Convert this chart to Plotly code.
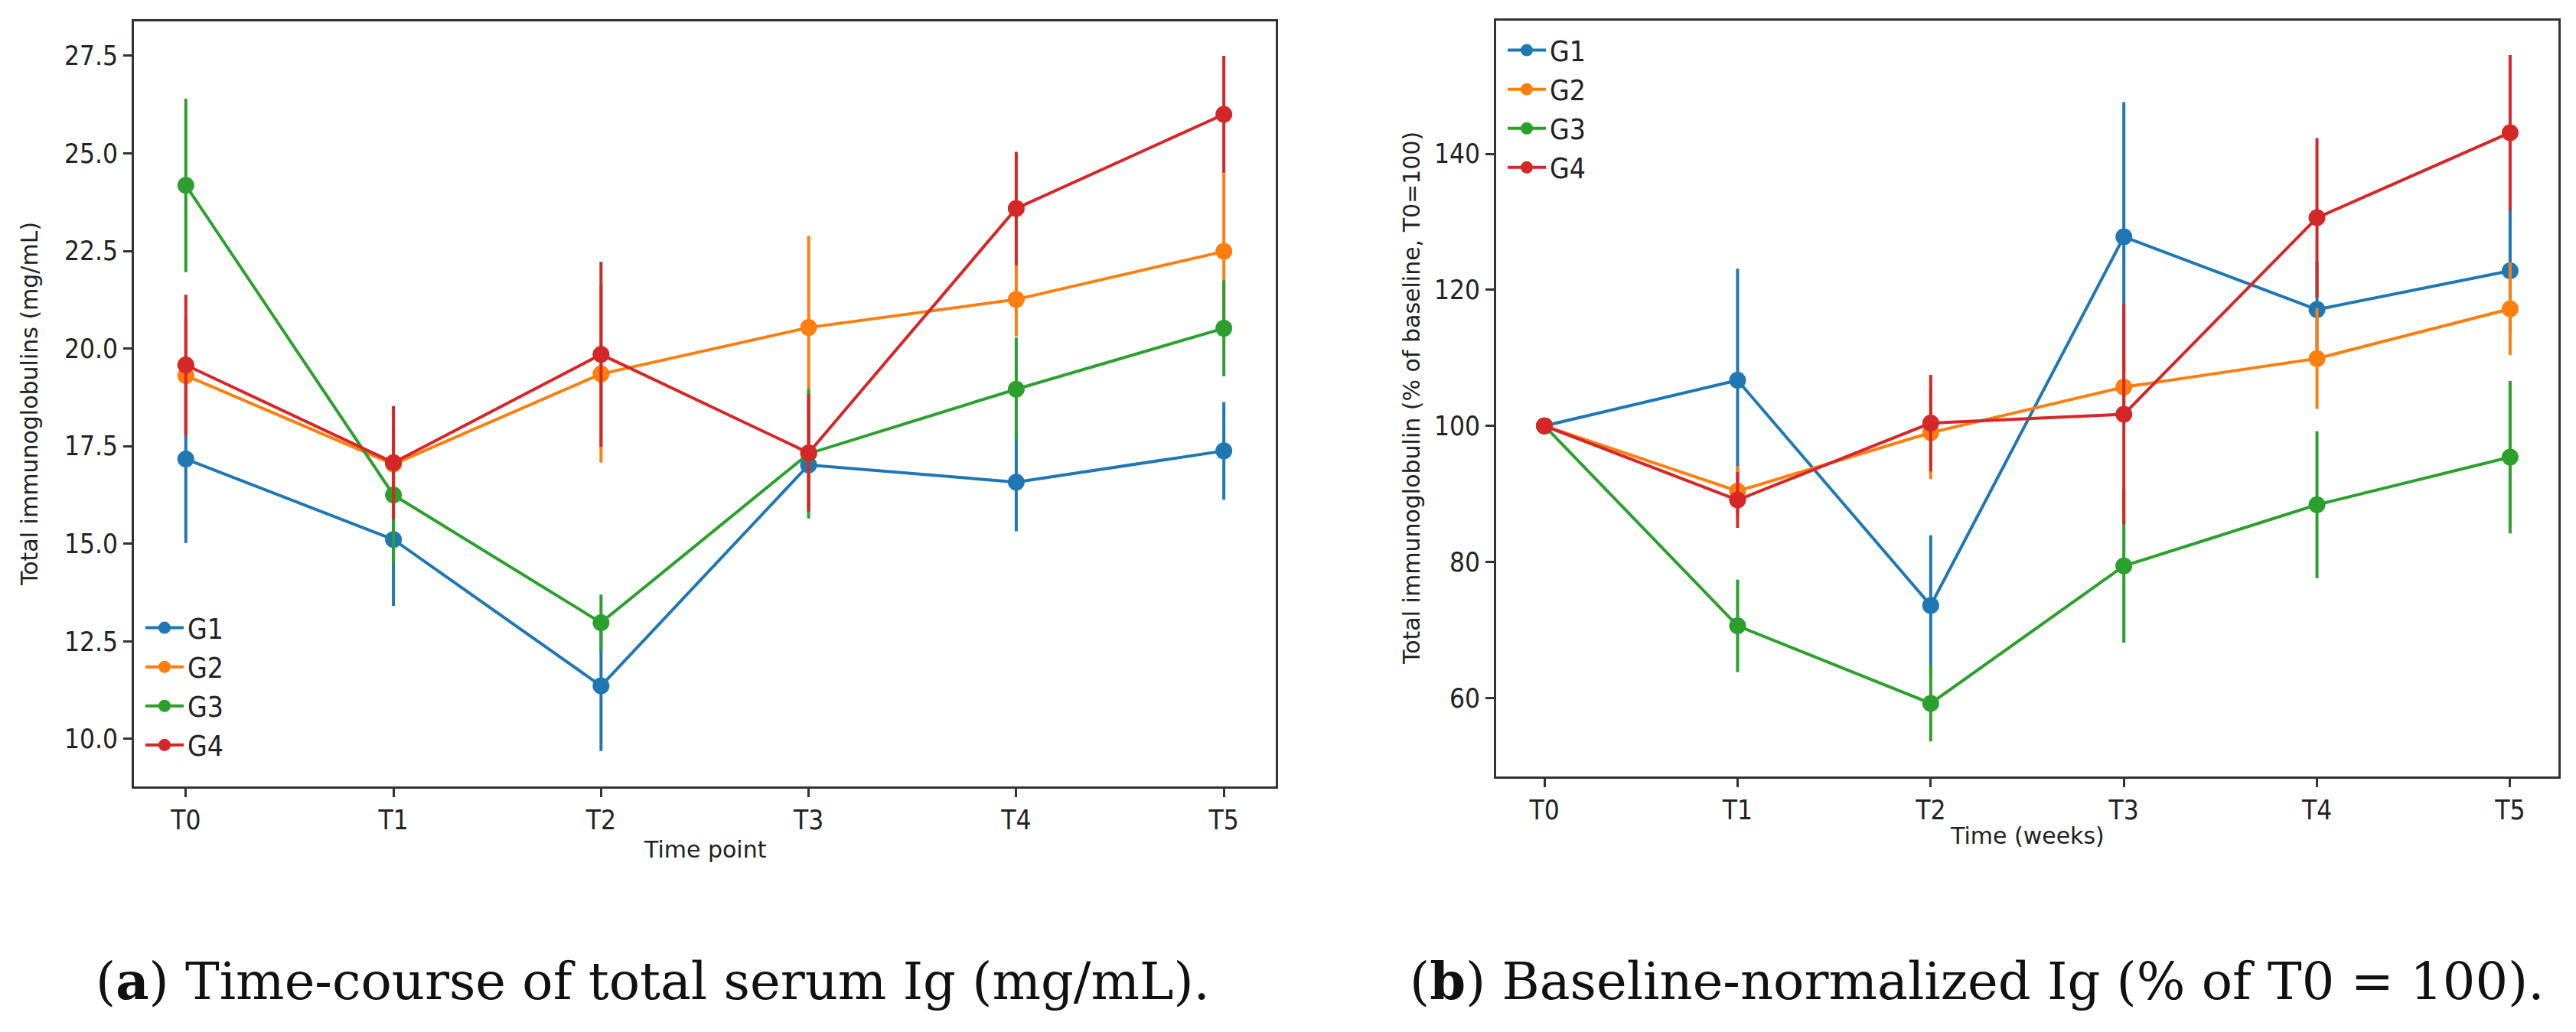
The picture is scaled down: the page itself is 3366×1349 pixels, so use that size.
import plotly.graph_objects as go

times = ["T0", "T1", "T2", "T3", "T4", "T5"]
groups = ["G1", "G2", "G3", "G4"]
colors = ["#1f77b4", "#ff7f0e", "#2ca02c", "#d62728"]

# Panel (a): total serum Ig (mg/mL), mean and error
abs_g1 = [17.17, 15.11, 11.36, 17.02, 16.58, 17.38]
abs_g2 = [19.31, 17.04, 19.35, 20.54, 21.26, 22.49]
abs_g3 = [24.18, 16.25, 12.98, 17.31, 18.96, 20.52]
abs_g4 = [19.58, 17.08, 19.85, 17.33, 23.59, 26.00]
abs_e1 = [2.15, 1.70, 1.67, 1.20, 1.26, 1.25]
abs_e2 = [1.50, 1.20, 2.27, 2.35, 0.95, 2.00]
abs_e3 = [2.22, 1.75, 0.72, 1.66, 1.32, 1.23]
abs_e4 = [1.80, 1.45, 2.37, 1.50, 1.45, 1.50]

# Panel (b): % of baseline (T0 = 100)
pct_g1 = [100.0, 106.7, 73.6, 127.8, 117.1, 122.8]
pct_g2 = [100.0, 90.4, 99.0, 105.7, 109.9, 117.2]
pct_g3 = [100.0, 70.6, 59.2, 79.4, 88.4, 95.4]
pct_g4 = [100.0, 89.1, 100.4, 101.7, 130.6, 143.1]
pct_e1 = [0.8, 16.4, 10.3, 19.8, 7.0, 9.2]
pct_e2 = [0.6, 3.7, 6.8, 4.0, 7.4, 6.8]
pct_e3 = [0.6, 6.8, 5.6, 11.3, 10.8, 11.2]
pct_e4 = [0.6, 4.1, 7.1, 16.2, 11.7, 11.4]

abs_vals = [abs_g1, abs_g2, abs_g3, abs_g4]
abs_errs = [abs_e1, abs_e2, abs_e3, abs_e4]
pct_vals = [pct_g1, pct_g2, pct_g3, pct_g4]
pct_errs = [pct_e1, pct_e2, pct_e3, pct_e4]

W, H = 3366, 1349
fig = go.Figure()

for i, g in enumerate(groups):
    fig.add_trace(go.Scatter(
        x=times, y=abs_vals[i], name=g, mode="lines+markers",
        line=dict(color=colors[i], width=4),
        marker=dict(color=colors[i], size=22),
        error_y=dict(type="data", array=abs_errs[i], visible=True,
                     color=colors[i], thickness=4, width=0),
        xaxis="x", yaxis="y", legend="legend",
    ))
for i, g in enumerate(groups):
    fig.add_trace(go.Scatter(
        x=times, y=pct_vals[i], name=g, mode="lines+markers",
        line=dict(color=colors[i], width=4),
        marker=dict(color=colors[i], size=22),
        error_y=dict(type="data", array=pct_errs[i], visible=True,
                     color=colors[i], thickness=4, width=0),
        xaxis="x2", yaxis="y2", legend="legend2",
    ))

sans_c = "DejaVu Sans Condensed, DejaVu Sans"
tickfont = dict(family=sans_c, size=35, color="#222222")
axis_common = dict(
    showline=True, mirror=True, linecolor="#333333", linewidth=3,
    ticks="outside", ticklen=11, tickwidth=3, tickcolor="#333333",
    showgrid=False, zeroline=False, tickfont=tickfont,
)

fig.update_layout(
    width=W, height=H,
    margin=dict(l=0, r=0, t=0, b=0),
    paper_bgcolor="white", plot_bgcolor="white",
    xaxis=dict(domain=[175 / W, 1667 / W], anchor="y",
               type="category", categoryorder="array", categoryarray=times,
               range=[-0.25, 5.25], **axis_common),
    yaxis=dict(domain=[1 - 1028 / H, 1 - 28 / H], anchor="x",
               range=[8.785, 28.38], tickvals=[10, 12.5, 15, 17.5, 20, 22.5, 25, 27.5],
               tickformat=".1f", **axis_common),
    xaxis2=dict(domain=[1955 / W, 3343 / W], anchor="y2",
                type="category", categoryorder="array", categoryarray=times,
                range=[-0.25, 5.25], **axis_common),
    yaxis2=dict(domain=[1 - 1015 / H, 1 - 27 / H], anchor="x2",
                range=[48.45, 159.57], tickvals=[60, 80, 100, 120, 140],
                **axis_common),
    legend=dict(x=185 / W, y=1 - 1005 / H, xanchor="left", yanchor="bottom",
                bgcolor="rgba(255,255,255,0)", borderwidth=0, itemwidth=50,
                font=dict(family=sans_c, size=37, color="#222222")),
    legend2=dict(x=1965 / W, y=1 - 35 / H, xanchor="left", yanchor="top",
                 bgcolor="rgba(255,255,255,0)", borderwidth=0, itemwidth=50,
                 font=dict(family=sans_c, size=37, color="#222222")),
    showlegend=True,
)

title_font = dict(family="DejaVu Sans", size=30, color="#222222")
ann = [
    dict(text="Time point", x=921 / W, y=1 - 1110 / H, xref="paper", yref="paper",
         showarrow=False, font=title_font, xanchor="center", yanchor="middle"),
    dict(text="Time (weeks)", x=2649 / W, y=1 - 1092 / H, xref="paper", yref="paper",
         showarrow=False, font=title_font, xanchor="center", yanchor="middle"),
    dict(text="Total immunoglobulins (mg/mL)", x=38 / W, y=1 - 528 / H,
         xref="paper", yref="paper", showarrow=False, font=title_font,
         textangle=-90, xanchor="center", yanchor="middle"),
    dict(text="Total immunoglobulin (% of baseline, T0=100)", x=1844 / W, y=1 - 521 / H,
         xref="paper", yref="paper", showarrow=False, font=title_font,
         textangle=-90, xanchor="center", yanchor="middle"),
    dict(text="(<b>a</b>) Time-course of total serum Ig (mg/mL).", x=853 / W, y=1 - 1282 / H,
         xref="paper", yref="paper", showarrow=False,
         font=dict(family="DejaVu Serif", size=67, color="#111111"),
         xanchor="center", yanchor="middle"),
    dict(text="(<b>b</b>) Baseline-normalized Ig (% of T0 = 100).", x=2583 / W, y=1 - 1282 / H,
         xref="paper", yref="paper", showarrow=False,
         font=dict(family="DejaVu Serif", size=67, color="#111111"),
         xanchor="center", yanchor="middle"),
]
fig.update_layout(annotations=ann)

fig.write_html("out.html")
